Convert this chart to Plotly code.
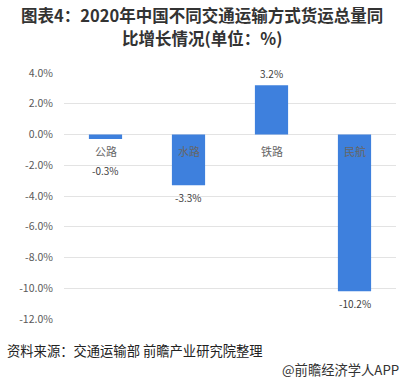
import plotly.graph_objects as go

categories = ["公路", "水路", "铁路", "民航"]
values = [-0.3, -3.3, 3.2, -10.2]
value_labels = ["-0.3%", "-3.3%", "3.2%", "-10.2%"]
tick_vals = [4, 2, 0, -2, -4, -6, -8, -10, -12]

FONT = "Noto Sans CJK SC, Microsoft YaHei, sans-serif"

W, H = 404, 381
L, R, T, B = 64, 8, 73, 62
PW, PH = W - L - R, H - T - B


def px(x):
    return (x - L) / PW


def py(y):
    return (H - B - y) / PH


fig = go.Figure()
fig.add_trace(go.Bar(
    x=categories, y=values, width=0.4,
    marker=dict(color="#3E80DD", line=dict(width=0)),
    hoverinfo="skip",
))

annotations = []
for c in categories:
    annotations.append(dict(x=c, y=0, xref="x", yref="y", text=c, showarrow=False,
                            yanchor="top", yshift=-6,
                            font=dict(family=FONT, size=11, color="#666666")))
for c, v, t in zip(categories, values, value_labels):
    if v >= 0:
        annotations.append(dict(x=c, y=v, xref="x", yref="y", text=t, showarrow=False,
                                yanchor="bottom", yshift=2,
                                font=dict(family=FONT, size=10, color="#404040")))
    else:
        shift = -22 if v > -1 else -3
        annotations.append(dict(x=c, y=v, xref="x", yref="y", text=t, showarrow=False,
                                yanchor="top", yshift=shift,
                                font=dict(family=FONT, size=10, color="#404040")))

annotations.append(dict(x=px(202), y=py(15), xref="paper", yref="paper", xanchor="center", yanchor="middle",
                        showarrow=False,
                        text="<b>图表4：2020年中国不同交通运输方式货运总量同</b>",
                        font=dict(family=FONT, size=16.5, color="#333333")))
annotations.append(dict(x=px(202), y=py(38), xref="paper", yref="paper", xanchor="center", yanchor="middle",
                        showarrow=False,
                        text="<b>比增长情况(单位：%)</b>",
                        font=dict(family=FONT, size=16.5, color="#333333")))
annotations.append(dict(x=px(5), y=py(350), xref="paper", yref="paper", xanchor="left", yanchor="middle",
                        showarrow=False, text="资料来源：交通运输部 前瞻产业研究院整理",
                        font=dict(family=FONT, size=13.3, color="#222222")))
annotations.append(dict(x=px(401), y=py(369), xref="paper", yref="paper", xanchor="right", yanchor="middle",
                        showarrow=False, text="@前瞻经济学人APP",
                        font=dict(family=FONT, size=13.3, color="#333333")))

fig.update_layout(
    width=W, height=H,
    margin=dict(l=L, r=R, t=T, b=B, autoexpand=False),
    paper_bgcolor="white", plot_bgcolor="white",
    showlegend=False,
    annotations=annotations,
    font=dict(family=FONT),
    xaxis=dict(showticklabels=False, showgrid=False, zeroline=False, showline=False,
               range=[-0.5, 3.5], fixedrange=True),
    yaxis=dict(range=[-12, 4], tickvals=tick_vals,
               ticktext=[f"{v:.1f}%" for v in tick_vals],
               showgrid=True, gridcolor="#E3E3E3", gridwidth=1,
               zeroline=True, zerolinecolor="#E3E3E3", zerolinewidth=1,
               showline=False, ticks="outside", ticklen=8, tickcolor="rgba(0,0,0,0)",
               tickfont=dict(family=FONT, size=10.5, color="#595959"), automargin=False),
)

fig.write_html("out.html", config={"displayModeBar": False},
               post_script="document.body.style.margin='0px';document.body.style.overflow='hidden';")
